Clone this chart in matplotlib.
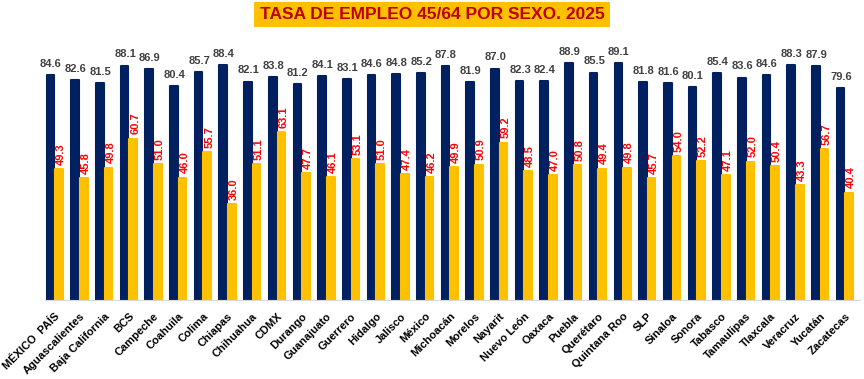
import matplotlib.pyplot as plt
import numpy as np

estados = ["MÉXICO  PAÍS", "Aguascalientes", "Baja California", "BCS", "Campeche",
           "Coahuila", "Colima", "Chiapas", "Chihuahua", "CDMX", "Durango",
           "Guanajuato", "Guerrero", "Hidalgo", "Jalisco", "México", "Michoacán",
           "Morelos", "Nayarit", "Nuevo León", "Oaxaca", "Puebla", "Querétaro",
           "Quintana Roo", "SLP", "Sinaloa", "Sonora", "Tabasco", "Tamaulipas",
           "Tlaxcala", "Veracruz", "Yucatán", "Zacatecas"]
hombres = [84.6, 82.6, 81.5, 88.1, 86.9, 80.4, 85.7, 88.4, 82.1, 83.8, 81.2,
           84.1, 83.1, 84.6, 84.8, 85.2, 87.8, 81.9, 87.0, 82.3, 82.4, 88.9,
           85.5, 89.1, 81.8, 81.6, 80.1, 85.4, 83.6, 84.6, 88.3, 87.9, 79.6]
mujeres = [49.3, 45.8, 49.8, 60.7, 51.0, 46.0, 55.7, 36.0, 51.1, 63.1, 47.7,
           46.1, 53.1, 51.0, 47.4, 46.2, 49.9, 50.9, 59.2, 48.5, 47.0, 50.8,
           49.4, 49.8, 45.7, 54.0, 52.2, 47.1, 52.0, 50.4, 43.3, 56.7, 40.4]

plt.rcParams['font.family'] = ['Liberation Sans', 'DejaVu Sans']

fig = plt.figure(figsize=(8.64, 3.79), dpi=100)
ax = fig.add_axes([0.052, 0.2084, 0.943, 0.702])

x = np.arange(len(estados))
w = 0.31
ax.bar(x - w / 2 - 0.02, hombres, w, color="#002060", edgecolor="#002060",
       linewidth=1.5, joinstyle="round")
ax.bar(x + w / 2 + 0.02, mujeres, w, color="#FFC000", edgecolor="#FFC000",
       linewidth=1.5, joinstyle="round")

for i in range(len(estados)):
    ax.annotate(f"{hombres[i]:.1f}", (x[i] - w / 2, hombres[i]), xytext=(0, 4.5),
                textcoords="offset points", ha="center", va="bottom",
                fontsize=8, fontweight="bold", color="#404040")
    ax.annotate(f"{mujeres[i]:.1f}", (x[i] + w / 2 + 0.1, mujeres[i]), xytext=(0, 3),
                textcoords="offset points", ha="center", va="bottom", rotation=90,
                fontsize=8, fontweight="bold", color="#FF0000")

ax.set_xlim(-0.4, len(estados) - 0.4)
ax.set_ylim(0, 100)
ax.set_xticks(x)
ax.set_xticklabels(estados, rotation=45, ha="right", rotation_mode="anchor",
                   fontsize=8, fontweight="bold")
ax.tick_params(axis="x", length=0, pad=8)
ax.set_yticks([])
for s in ["top", "right", "left"]:
    ax.spines[s].set_visible(False)
ax.spines["bottom"].set_color("#D9D9D9")

fig.text(0.5, 0.962, "TASA DE EMPLEO 45/64 POR SEXO. 2025", ha="center", va="center",
         fontsize=12.5, fontweight="bold", color="#C00000",
         bbox=dict(boxstyle="square,pad=0.3", facecolor="#FFC000", edgecolor="none"))

fig.savefig("out.png", dpi=100)
